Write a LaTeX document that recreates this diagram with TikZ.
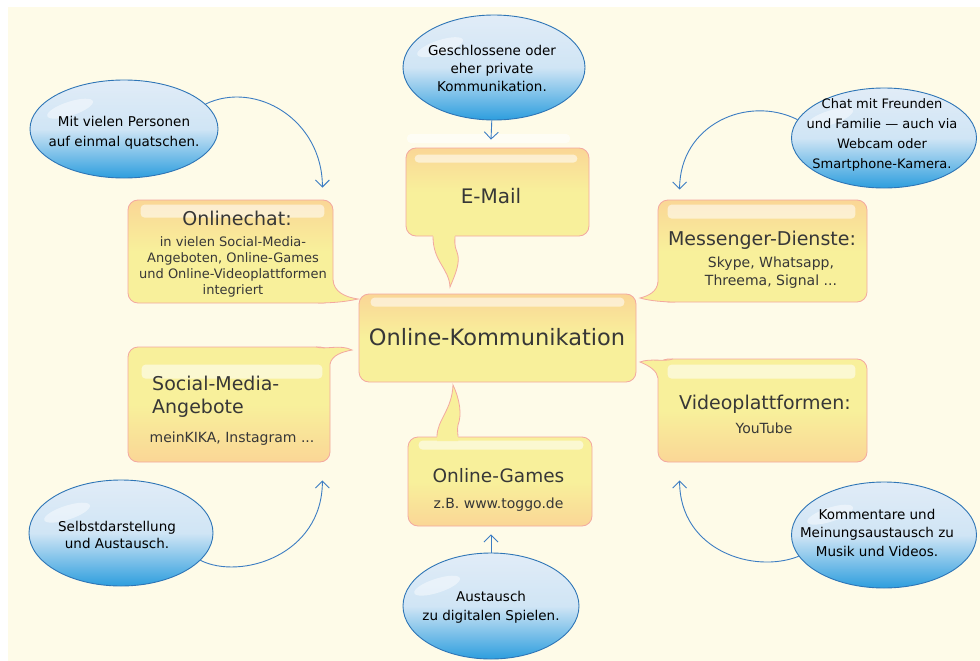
\documentclass[tikz,border=0pt]{standalone}
\usepackage{fontspec}
\setmainfont{DejaVu Sans}
\usetikzlibrary{shapes.geometric,arrows.meta,calc}
\definecolor{cream}{RGB}{254,251,232}
\definecolor{boxO}{RGB}{250,214,150}
\definecolor{boxY}{RGB}{248,240,155}
\definecolor{boxLine}{RGB}{243,168,160}
\definecolor{eTop}{RGB}{225,236,247}
\definecolor{eMid}{RGB}{208,229,245}
\definecolor{eBot}{RGB}{45,158,222}
\definecolor{eLine}{RGB}{46,117,182}
\definecolor{connc}{RGB}{60,125,195}
\definecolor{txt}{RGB}{55,55,55}
\begin{document}
\begin{tikzpicture}[x=1pt,y=-1pt,
  box/.style={rectangle, rounded corners=10pt, draw=boxLine, line width=0.8pt, inner sep=0pt},
  boxdown/.style={box, top color=boxO, bottom color=boxY, middle color=boxY},
  boxup/.style={box, top color=boxY, bottom color=boxO, middle color=boxY},
  hl/.style={fill=white, fill opacity=0.55, rounded corners=4pt},
  tailfill/.style={fill=boxY},
  tailline/.style={draw=boxLine, line width=0.8pt},
  ell/.style={ellipse, draw=eLine, line width=0.9pt, top color=eTop, bottom color=eBot, middle color=eMid, inner sep=0pt},
  ehl/.style={fill=white, fill opacity=0.45},
  btxt/.style={inner sep=0pt, text=txt},
  etxt/.style={inner sep=0pt, text=black, align=center},
  ttl/.style={btxt, font=\fontsize{19}{23}\selectfont},
  sub/.style={btxt, font=\fontsize{14}{18}\selectfont},
  connector/.style={draw=connc, line width=0.9pt, -{Straight Barb[length=7pt,width=14pt]}}
]
\useasboundingbox (0,0) rectangle (980,661);
\fill[white] (0,0) rectangle (980,661);
\fill[cream] (8,7) rectangle (980,661);

% ---------- boxes ----------
\node[boxdown, minimum width=277pt, minimum height=88pt] (center) at (497.5,338) {};
\node[boxdown, minimum width=183pt, minimum height=88pt] (email) at (497.5,192) {};
\node[boxdown, minimum width=205pt, minimum height=103pt] (chat) at (230.5,251.5) {};
\node[boxdown, minimum width=209pt, minimum height=102pt] (msg) at (762.5,251) {};
\node[boxup, minimum width=202pt, minimum height=115pt] (social) at (229,404.5) {};
\node[boxup, minimum width=209pt, minimum height=103pt] (video) at (762.5,410.5) {};
\node[boxup, minimum width=184pt, minimum height=89pt] (games) at (500,481.5) {};

% faint reflection above E-Mail
\fill[white, fill opacity=0.6, rounded corners=4pt] (407,134) rectangle (570,143);

% highlight bars
\fill[hl] ($(center.north west)+(12,4)$) rectangle ($(center.north east)+(-12,13)$);
\fill[hl] ($(email.north west)+(9,7)$) rectangle ($(email.north east)+(-12,15)$);
\fill[hl] ($(chat.north west)+(13,5)$) rectangle ($(chat.north east)+(-9,18)$);
\fill[hl] ($(msg.north west)+(10,5)$) rectangle ($(msg.north east)+(-12,19)$);
\fill[hl] ($(social.north west)+(14,18)$) rectangle ($(social.north east)+(-8,32)$);
\fill[hl] ($(video.north west)+(10,6)$) rectangle ($(video.north east)+(-12,20)$);
\fill[hl] ($(games.north west)+(11,4)$) rectangle ($(games.north east)+(-9,13)$);

% ---------- tails ----------
% E-Mail (down)
\fill[tailfill] (433,232) -- (433,236) .. controls (433,262) and (449,268) .. (450,287)
  .. controls (455,275) and (461,262) .. (457,252) .. controls (454,246) and (455,240) .. (455,236) -- (455,232) -- cycle;
\draw[tailline] (433,236.4) .. controls (433,262) and (449,268) .. (450,287)
  .. controls (455,275) and (461,262) .. (457,252) .. controls (454,246) and (455,240) .. (455,236.4);
% Online-Games (up)
\fill[tailfill] (437,441) -- (437,437) .. controls (437,420) and (452,410) .. (453,385)
  .. controls (460,400) and (462,415) .. (458,425) .. controls (457,430) and (458,434) .. (458,437) -- (458,441) -- cycle;
\draw[tailline] (437,436.6) .. controls (437,420) and (452,410) .. (453,385)
  .. controls (460,400) and (462,415) .. (458,425) .. controls (457,430) and (458,434) .. (458,436.6);
% Onlinechat (bottom right)
\fill[tailfill] (329,280) -- (333,280) .. controls (334,292) and (345,297) .. (358,299)
  .. controls (345,302) and (330,303) .. (318,303) -- (318,299) -- (329,299) -- cycle;
\draw[tailline] (333,280) .. controls (334,292) and (345,297) .. (358,299)
  .. controls (345,302) and (330,303) .. (318,303);
% Messenger (bottom left)
\fill[tailfill] (662,282) -- (658,282) .. controls (657,292) and (648,296) .. (640,298)
  .. controls (650,301) and (665,302) .. (675,302) -- (675,298) -- (662,298) -- cycle;
\draw[tailline] (658,282) .. controls (657,292) and (648,296) .. (640,298)
  .. controls (650,301) and (665,302) .. (675,302);
% Social (top right)
\fill[tailfill] (316,351) -- (316,347) .. controls (326,350) and (340,344) .. (352,350)
  .. controls (342,352) and (332,355) .. (330,364) -- (326,364) -- (326,351) -- cycle;
\draw[tailline] (316,347) .. controls (326,350) and (340,344) .. (352,350)
  .. controls (342,352) and (332,355) .. (330,364);
% Video (top left)
\fill[tailfill] (673,363) -- (673,359) .. controls (665,362) and (650,358) .. (640,362)
  .. controls (650,366) and (657,371) .. (658,378) -- (662,378) -- (662,363) -- cycle;
\draw[tailline] (673,359) .. controls (665,362) and (650,358) .. (640,362)
  .. controls (650,366) and (657,371) .. (658,378);

% ---------- box texts ----------
\node[btxt, font=\fontsize{22.5}{27}\selectfont, anchor=base] (centerT) at (497,345) {Online-Kommunikation};
\node[btxt, font=\fontsize{20}{24}\selectfont, anchor=base] (emailT) at (491,203) {E-Mail};
\node[ttl, anchor=base] (chatT) at (237,225) {Onlinechat:};
\node[btxt, font=\fontsize{13}{16}\selectfont, align=center] (chatS) at (233,266.7)
  {in vielen Social-Media-\\Angeboten, Online-Games\\und Online-Videoplattformen\\integriert};
\node[ttl, anchor=base] (msgT) at (762,245) {Messenger-Dienste:};
\node[sub, align=center] (msgS) at (771,272.6) {Skype, Whatsapp,\\Threema, Signal ...};
\node[btxt, font=\fontsize{19}{23}\selectfont, align=left, anchor=west] (socialT) at (152,396.8) {Social-Media-\\Angebote};
\node[sub, anchor=base] (socialS) at (232,442) {meinKIKA, Instagram ...};
\node[ttl, anchor=base] (videoT) at (765,409) {Videoplattformen:};
\node[sub, anchor=base] (videoS) at (764,433) {YouTube};
\node[btxt, font=\fontsize{18.5}{22}\selectfont, anchor=base] (gamesT) at (498.5,482) {Online-Games};
\node[sub, anchor=base] (gamesS) at (498.5,508) {z.B. www.toggo.de};

% ---------- ellipses ----------
\node[ell, minimum width=182pt, minimum height=105pt] (e1) at (494,67.5) {};
\node[ell, minimum width=188pt, minimum height=98pt] (e2) at (124,129) {};
\node[ell, minimum width=185pt, minimum height=100pt] (e3) at (884,138) {};
\node[ell, minimum width=184pt, minimum height=106pt] (e4) at (121,533) {};
\node[ell, minimum width=185pt, minimum height=106pt] (e5) at (884,535) {};
\node[ell, minimum width=176pt, minimum height=106pt] (e6) at (491,606) {};

\foreach \e in {e1,e2,e3,e4,e5,e6}{
  \fill[ehl, rotate around={18:($(\e)+(-45,-36)$)}] ($(\e)+(-45,-36)$) ellipse (24 and 7);
}

\node[etxt, font=\fontsize{13.5}{18}\selectfont] (e1t) at (492,68) {Geschlossene oder\\eher private\\Kommunikation.};
\node[etxt, font=\fontsize{13.5}{20}\selectfont] (e2t) at (124,133) {Mit vielen Personen\\auf einmal quatschen.};
\node[etxt, font=\fontsize{13}{20}\selectfont] (e3t) at (882,135) {Chat mit Freunden\\und Familie — auch via\\Webcam oder\\Smartphone-Kamera.};
\node[etxt, font=\fontsize{13.5}{17}\selectfont] (e4t) at (117,535) {Selbstdarstellung\\und Austausch.};
\node[etxt, font=\fontsize{13.5}{18.5}\selectfont] (e5t) at (877,532.5) {Kommentare und\\Meinungsaustausch zu\\Musik und Videos.};
\node[etxt, font=\fontsize{13.5}{19}\selectfont] (e6t) at (491,607) {Austausch\\zu digitalen Spielen.};

% ---------- connectors ----------
\coordinate (t1) at ($(email.north)+(-6.5,-8)$);
\coordinate (t2) at ($(chat.north east)+(-11,-12)$);
\coordinate (t3) at ($(msg.north west)+(22,-10)$);
\coordinate (t4) at ($(social.south east)+(-8,18)$);
\coordinate (t5) at ($(video.south west)+(22,18)$);
\coordinate (t6) at ($(games.south)+(-9,8)$);

\draw[connector] (e1) -- (t1);
\draw[connector] (e2.17) .. controls +(50,-24) and +(0,-68) .. (t2);
\draw[connector] (e3.168) .. controls +(-50,-25) and +(0,-65) .. (t3);
\draw[connector] (e4.-19) .. controls +(40,20) and +(0,75) .. (t4);
\draw[connector] (e5.194) .. controls +(-45,18) and +(0,70) .. (t5);
\draw[connector] (e6) -- (t6);
\end{tikzpicture}
\end{document}
